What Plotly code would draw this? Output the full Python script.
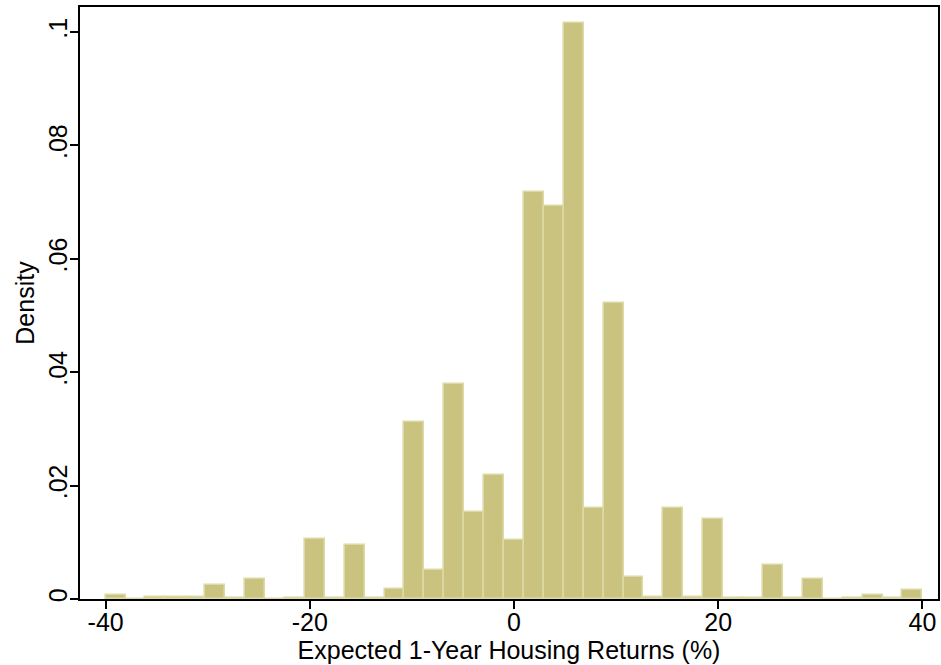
import plotly.graph_objects as go

# Histogram: 41 equal-width bins spanning -40 .. 40
bin_start = -40.0
bin_end = 40.0
n_bins = 41
density = [
    0.0007, 0.0, 0.0003, 0.0003, 0.0003, 0.0025, 0.0002, 0.0036, 0.0, 0.0002,
    0.0105, 0.0002, 0.0095, 0.0002, 0.0017, 0.0313, 0.0052, 0.0379, 0.0153, 0.0218,
    0.0104, 0.0718, 0.0693, 0.1016, 0.0161, 0.0522, 0.0038, 0.0004, 0.0160, 0.0004,
    0.0141, 0.0002, 0.0002, 0.0060, 0.0001, 0.0035, 0.0, 0.0002, 0.0007, 0.0002,
    0.0015,
]
x_tick_vals = [-40, -20, 0, 20, 40]
x_tick_text = ["-40", "-20", "0", "20", "40"]
y_tick_vals = [0, 0.02, 0.04, 0.06, 0.08, 0.1]
y_tick_text = ["0", ".02", ".04", ".06", ".08", ".1"]

width = (bin_end - bin_start) / n_bins
centers = [bin_start + (i + 0.5) * width for i in range(n_bins)]

fig = go.Figure()
fig.add_trace(go.Bar(
    x=centers, y=density, width=[width] * n_bins,
    marker=dict(color="#c9c37f", line=dict(color="#ddd9a5", width=1.6)),
))

font = "Liberation Sans, Arial, sans-serif"
fs = 25
fig.update_layout(
    width=941, height=665,
    margin=dict(l=80, r=1, t=7, b=66),
    paper_bgcolor="white", plot_bgcolor="white",
    showlegend=False, bargap=0,
    font=dict(family=font, size=fs, color="black"),
    xaxis=dict(
        range=[-42.51, 41.53], tickvals=x_tick_vals, ticktext=x_tick_text,
        showgrid=False, zeroline=False,
        showline=True, linecolor="black", linewidth=2, mirror=True,
        ticks="outside", ticklen=8, tickcolor="black", tickwidth=1.5,
        ticklabelstandoff=-8,
        tickfont=dict(family=font, size=fs, color="black"),
        title=dict(text="Expected 1-Year Housing Returns (%)", standoff=0,
                   font=dict(family=font, size=fs, color="black")),
    ),
    yaxis=dict(
        range=[0, 0.1044], tickvals=y_tick_vals, ticktext=y_tick_text,
        tickangle=-90,
        showgrid=False, zeroline=False,
        showline=True, linecolor="black", linewidth=2, mirror=True,
        ticks="outside", ticklen=8, tickcolor="black", tickwidth=1.5,
        ticklabelstandoff=-7,
        tickfont=dict(family=font, size=fs, color="black"),
        title=dict(text="Density", standoff=2,
                   font=dict(family=font, size=fs, color="black")),
    ),
)

fig.write_html("out.html", config={"displayModeBar": False},
               post_script="document.body.style.margin='0';")
